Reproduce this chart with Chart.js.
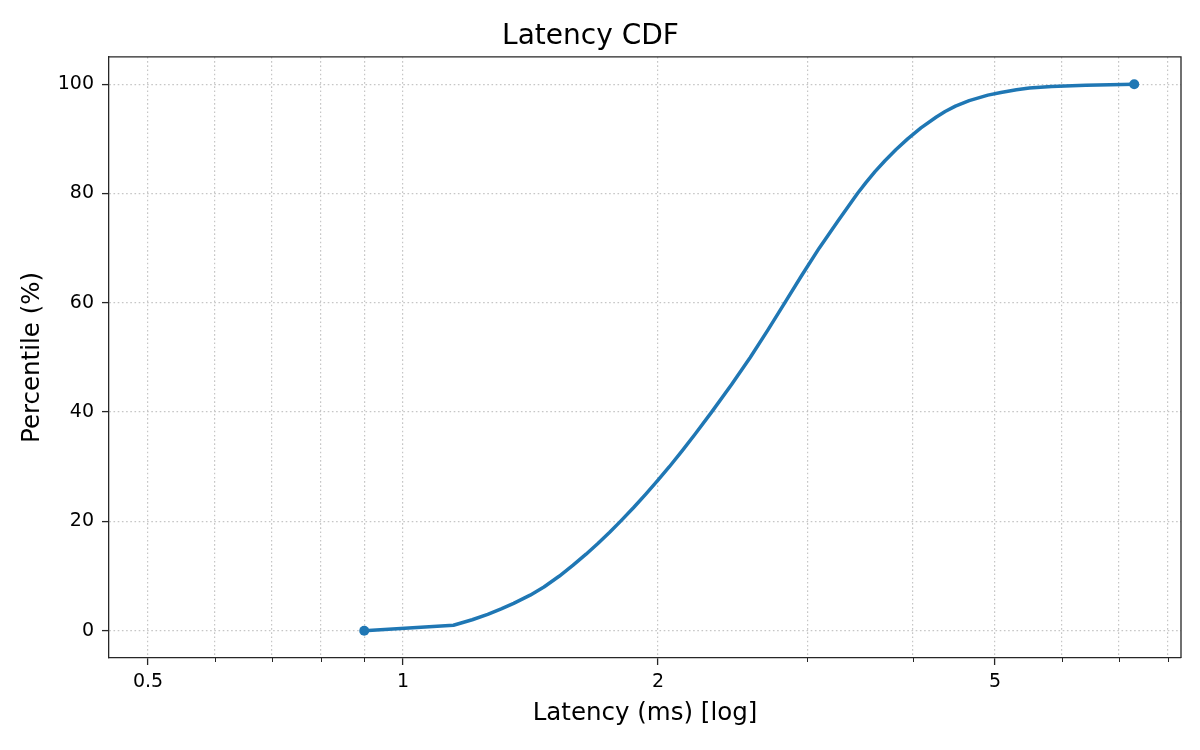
<!DOCTYPE html>
<html>
<head>
<meta charset="utf-8">
<title>Latency CDF</title>
<script src="https://cdn.jsdelivr.net/npm/chart.js@4.4.1/dist/chart.umd.min.js"></script>
<style>
    html, body { margin: 0; padding: 0; background: #fff; }
    #wrap { width: 1200px; height: 750px; }
</style>
</head>
<body>
<div id="wrap"><canvas id="cdf-chart" width="1200" height="750"></canvas></div>
<script>
// Values
const latencyMs = [0.900, 1.147, 1.207, 1.259, 1.306, 1.351, 1.413, 1.467, 1.530, 1.588, 1.645, 1.700,
    1.754, 1.806, 1.871, 1.935, 1.999, 2.063, 2.138, 2.213, 2.314, 2.442, 2.570, 2.696, 2.823, 2.956,
    3.100, 3.264, 3.440, 3.520, 3.608, 3.707, 3.818, 3.943, 4.088, 4.263, 4.366, 4.490, 4.661, 4.904,
    5.080, 5.300, 5.490, 5.830, 6.400, 7.300];
const percentiles = [0, 1, 2, 3, 4, 5, 6.5, 8, 10, 12, 14, 16,
    18, 20, 22.5, 25, 27.5, 30, 33, 36, 40, 45, 50, 55, 60, 65,
    70, 75, 80, 82, 84, 86, 88, 90, 92, 94, 95, 96, 97, 98,
    98.5, 99, 99.3, 99.6, 99.8, 100];

const xMajorTicks = [0.5, 1, 2, 5];
const xMinorTicks = [0.6, 0.7, 0.8, 0.9, 3, 4, 6, 7, 8];
const yTicks = [0, 20, 40, 60, 80, 100];

const FONT = "'DejaVu Sans', 'Liberation Sans', sans-serif";
const LINE_BLUE = '#1f77b4';
const AXIS_COLOR = '#262626';
const GRID_COLOR = 'rgba(160, 160, 160, 0.6)';

/**
 * Draws the top/right spines and the short minor tick marks on the x axis
 */
const frameAndMinorTicks = {
    id: 'frameAndMinorTicks',
    afterDraw(chart) {
        const { ctx, chartArea: area } = chart;
        const xScale = chart.scales.x;
        ctx.save();
        ctx.strokeStyle = AXIS_COLOR;
        ctx.lineWidth = 1.3;
        ctx.beginPath();
        ctx.moveTo(area.left, area.top);
        ctx.lineTo(area.right, area.top);
        ctx.lineTo(area.right, area.bottom);
        ctx.stroke();

        ctx.lineWidth = 1;
        ctx.beginPath();
        xMinorTicks.forEach(v => {
            const px = Math.round(xScale.getPixelForValue(v)) + 0.5;
            ctx.moveTo(px, area.bottom);
            ctx.lineTo(px, area.bottom + 4);
        });
        ctx.stroke();
        ctx.restore();
    }
};

const lastIndex = latencyMs.length - 1;

new Chart(document.getElementById('cdf-chart'), {
    type: 'line',
    data: {
        datasets: [{
            label: 'CDF',
            data: latencyMs.map((x, i) => ({ x: x, y: percentiles[i] })),
            borderColor: LINE_BLUE,
            backgroundColor: LINE_BLUE,
            borderWidth: 3.5,
            borderJoinStyle: 'round',
            tension: 0,
            fill: false,
            pointRadius: ctx => (ctx.dataIndex === 0 || ctx.dataIndex === lastIndex) ? 5 : 0,
            pointBorderWidth: 0,
            pointHoverRadius: 5
        }]
    },
    options: {
        responsive: false,
        animation: false,
        layout: { padding: { left: 0, right: 19, top: 0, bottom: 0 } },
        plugins: {
            legend: { display: false },
            tooltip: { enabled: false },
            title: {
                display: true,
                text: 'Latency CDF',
                color: '#000',
                font: { family: FONT, size: 28, weight: 'normal' },
                padding: { top: 20, bottom: 3.3 }
            }
        },
        scales: {
            x: {
                type: 'logarithmic',
                min: 0.4497,
                max: 8.29,
                afterBuildTicks: scale => {
                    scale.ticks = xMajorTicks.concat(xMinorTicks)
                        .sort((a, b) => a - b)
                        .map(v => ({ value: v }));
                },
                afterFit: scale => { scale.height = 92; },
                ticks: {
                    autoSkip: false,
                    maxRotation: 0,
                    padding: 6,
                    color: '#000',
                    font: { family: FONT, size: 19 },
                    callback: value => xMajorTicks.includes(value) ? String(value) : ''
                },
                grid: {
                    color: GRID_COLOR,
                    lineWidth: 1.2,
                    tickLength: 7,
                    tickWidth: 1.3,
                    tickColor: ctx => (ctx.tick && xMajorTicks.includes(ctx.tick.value)) ? AXIS_COLOR : 'rgba(0,0,0,0)'
                },
                border: { display: true, color: AXIS_COLOR, width: 1.3, dash: [1.6, 2.6] },
                title: {
                    display: true,
                    text: 'Latency (ms) [log]',
                    color: '#000',
                    font: { family: FONT, size: 24.5 },
                    padding: { top: 0, bottom: 22 }
                }
            },
            y: {
                type: 'linear',
                min: -5,
                max: 105,
                afterBuildTicks: scale => {
                    scale.ticks = yTicks.map(v => ({ value: v }));
                },
                afterFit: scale => { scale.width = 109; },
                ticks: {
                    padding: 8,
                    color: '#000',
                    font: { family: FONT, size: 19 }
                },
                grid: {
                    color: GRID_COLOR,
                    lineWidth: 1.2,
                    tickLength: 7,
                    tickWidth: 1.3,
                    tickColor: AXIS_COLOR
                },
                border: { display: true, color: AXIS_COLOR, width: 1.3, dash: [1.6, 2.6] },
                title: {
                    display: true,
                    text: 'Percentile (%)',
                    color: '#000',
                    font: { family: FONT, size: 24.5 },
                    padding: { top: 18, bottom: 0 }
                }
            }
        }
    },
    plugins: [frameAndMinorTicks]
});
</script>
</body>
</html>
